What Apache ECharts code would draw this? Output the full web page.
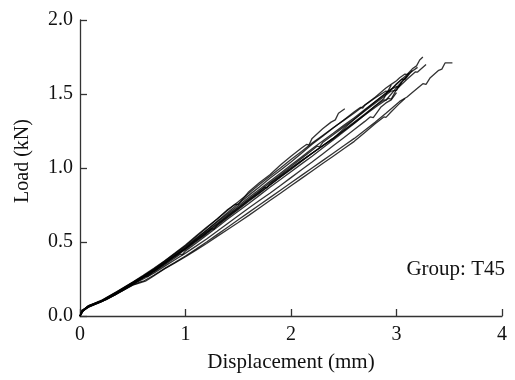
<!DOCTYPE html>
<html>
<head>
<meta charset="utf-8">
<script src="https://cdn.jsdelivr.net/npm/echarts@6/dist/echarts.min.js"></script>
<style>
  html, body { margin: 0; padding: 0; background: #fff; }
  #chart { width: 515px; height: 380px; }
</style>
</head>
<body>
<div id="chart"></div>
<script>
// Load-displacement records of the T45 specimens, [displacement mm, load kN]
const specimen1 = [[0,0],[0.02,0.035],[0.07,0.065],[0.2,0.105],[0.35,0.165],[0.5,0.23],[0.6,0.275],[0.7,0.322],[0.8,0.372],[0.9,0.425],[1.0,0.48],[1.1,0.54],[1.2,0.6],[1.3,0.655],[1.4,0.72],[1.47,0.755],[1.5,0.752],[1.6,0.84],[1.7,0.9],[1.8,0.955],[1.9,1.02],[2.0,1.08],[2.1,1.135],[2.15,1.16],[2.17,1.155],[2.2,1.2],[2.3,1.265],[2.38,1.31],[2.42,1.325],[2.45,1.37],[2.51,1.40]];
const specimen2 = [[0,0],[0.02,0.03],[0.08,0.07],[0.2,0.1],[0.35,0.16],[0.5,0.225],[0.6,0.268],[0.7,0.312],[0.8,0.36],[0.9,0.41],[1.0,0.46],[1.1,0.52],[1.2,0.58],[1.3,0.64],[1.4,0.7],[1.5,0.758],[1.6,0.815],[1.7,0.872],[1.8,0.93],[1.9,0.985],[2.0,1.04],[2.1,1.1],[2.2,1.16],[2.3,1.215],[2.4,1.27],[2.5,1.325],[2.6,1.38],[2.66,1.41],[2.68,1.405],[2.7,1.425],[2.8,1.48],[2.9,1.54],[2.95,1.565],[3.0,1.59],[3.03,1.61],[3.08,1.635],[3.1,1.632],[3.15,1.67],[3.19,1.69],[3.22,1.73],[3.25,1.75]];
const specimen3 = [[0,0],[0.03,0.04],[0.08,0.065],[0.2,0.1],[0.35,0.158],[0.5,0.222],[0.6,0.262],[0.7,0.305],[0.8,0.355],[0.9,0.405],[1.0,0.455],[1.1,0.508],[1.2,0.56],[1.25,0.59],[1.27,0.585],[1.3,0.615],[1.4,0.67],[1.5,0.725],[1.6,0.78],[1.7,0.832],[1.8,0.885],[1.9,0.94],[2.0,0.99],[2.1,1.045],[2.2,1.1],[2.3,1.15],[2.4,1.2],[2.5,1.265],[2.6,1.33],[2.7,1.39],[2.8,1.45],[2.94,1.53],[3.0,1.55],[3.02,1.545],[3.1,1.6],[3.18,1.65],[3.2,1.648],[3.28,1.70]];
const specimen4 = [[0,0],[0.02,0.03],[0.08,0.06],[0.2,0.095],[0.35,0.15],[0.5,0.21],[0.58,0.232],[0.6,0.235],[0.65,0.255],[0.7,0.275],[0.8,0.32],[0.9,0.362],[1.0,0.405],[1.1,0.452],[1.2,0.5],[1.3,0.55],[1.4,0.6],[1.5,0.65],[1.6,0.7],[1.7,0.75],[1.8,0.8],[1.9,0.85],[2.0,0.9],[2.1,0.95],[2.2,1.0],[2.3,1.05],[2.4,1.1],[2.5,1.15],[2.6,1.2],[2.7,1.255],[2.8,1.31],[2.9,1.37],[3.03,1.45],[3.1,1.48],[3.15,1.51],[3.25,1.57],[3.28,1.565],[3.32,1.61],[3.4,1.66],[3.43,1.668],[3.46,1.71],[3.53,1.71]];
const specimen5 = [[0,0],[0.03,0.035],[0.08,0.062],[0.2,0.098],[0.35,0.155],[0.5,0.215],[0.6,0.25],[0.7,0.29],[0.8,0.335],[0.9,0.38],[1.0,0.425],[1.1,0.472],[1.2,0.52],[1.3,0.572],[1.4,0.625],[1.5,0.678],[1.6,0.73],[1.7,0.78],[1.8,0.83],[1.9,0.882],[2.0,0.935],[2.1,0.988],[2.2,1.04],[2.3,1.095],[2.4,1.15],[2.5,1.205],[2.6,1.26],[2.7,1.315],[2.75,1.345],[2.78,1.34],[2.85,1.41],[2.9,1.44],[2.95,1.46],[3.0,1.51]];
const specimen6 = [[0,0],[0.02,0.04],[0.1,0.07],[0.25,0.11],[0.4,0.17],[0.55,0.235],[0.62,0.27],[0.64,0.266],[0.7,0.3],[0.85,0.375],[1.0,0.45],[1.1,0.502],[1.2,0.555],[1.3,0.61],[1.4,0.665],[1.5,0.72],[1.6,0.775],[1.7,0.83],[1.8,0.885],[1.9,0.94],[2.0,0.995],[2.1,1.048],[2.2,1.1],[2.3,1.15],[2.4,1.2],[2.5,1.255],[2.6,1.31],[2.7,1.365],[2.8,1.42],[2.88,1.46],[2.9,1.458],[2.95,1.5],[3.02,1.56],[3.1,1.62]];
const specimen7 = [[0,0],[0.02,0.03],[0.07,0.06],[0.2,0.1],[0.35,0.162],[0.5,0.228],[0.6,0.27],[0.7,0.315],[0.8,0.365],[0.9,0.418],[1.0,0.47],[1.1,0.525],[1.2,0.58],[1.3,0.635],[1.4,0.69],[1.5,0.745],[1.6,0.8],[1.7,0.855],[1.8,0.91],[1.9,0.965],[2.0,1.02],[2.1,1.075],[2.2,1.13],[2.3,1.183],[2.4,1.235],[2.5,1.288],[2.6,1.34],[2.7,1.395],[2.8,1.45],[2.95,1.53],[3.05,1.6],[3.08,1.598],[3.15,1.66]];
const specimen8 = [[0,0],[0.03,0.038],[0.09,0.066],[0.22,0.104],[0.4,0.175],[0.55,0.238],[0.7,0.305],[0.85,0.38],[1.0,0.455],[1.1,0.51],[1.2,0.565],[1.3,0.62],[1.4,0.675],[1.5,0.73],[1.6,0.785],[1.7,0.84],[1.75,0.87],[1.77,0.866],[1.8,0.895],[1.9,0.948],[2.0,1.0],[2.1,1.05],[2.2,1.1],[2.3,1.15],[2.4,1.2],[2.5,1.252],[2.6,1.305],[2.7,1.358],[2.8,1.41],[2.92,1.47],[2.95,1.465],[3.0,1.53],[3.05,1.58]];
const specimen9 = [[0,0],[0.03,0.035],[0.08,0.06],[0.2,0.095],[0.35,0.15],[0.5,0.208],[0.62,0.235],[0.68,0.262],[0.8,0.318],[0.9,0.358],[1.0,0.4],[1.1,0.445],[1.2,0.49],[1.3,0.538],[1.4,0.585],[1.5,0.632],[1.6,0.68],[1.7,0.73],[1.8,0.78],[1.9,0.83],[2.0,0.88],[2.1,0.93],[2.2,0.98],[2.3,1.03],[2.4,1.08],[2.5,1.13],[2.6,1.18],[2.7,1.24],[2.8,1.3],[2.88,1.345],[2.9,1.342],[2.95,1.38],[3.02,1.43],[3.08,1.47]];
const specimen10 = [[0,0],[0.02,0.036],[0.08,0.068],[0.2,0.102],[0.35,0.163],[0.5,0.226],[0.6,0.27],[0.7,0.318],[0.8,0.37],[0.9,0.422],[1.0,0.475],[1.1,0.535],[1.2,0.595],[1.3,0.655],[1.4,0.715],[1.5,0.772],[1.6,0.83],[1.7,0.888],[1.8,0.945],[1.9,1.0],[2.0,1.058],[2.1,1.112],[2.2,1.168],[2.3,1.22],[2.4,1.272],[2.5,1.322],[2.6,1.372],[2.7,1.425],[2.8,1.475],[2.9,1.52],[2.93,1.515],[3.0,1.57],[3.1,1.63],[3.2,1.68]];
const specimen11 = [[0,0],[0.03,0.037],[0.08,0.064],[0.2,0.1],[0.35,0.16],[0.5,0.22],[0.6,0.258],[0.7,0.3],[0.8,0.345],[0.9,0.392],[0.95,0.418],[0.97,0.414],[1.0,0.44],[1.1,0.492],[1.2,0.545],[1.3,0.6],[1.4,0.655],[1.5,0.708],[1.6,0.76],[1.7,0.815],[1.8,0.87],[1.9,0.922],[2.0,0.975],[2.1,1.028],[2.2,1.08],[2.3,1.135],[2.4,1.19],[2.5,1.245],[2.6,1.3],[2.7,1.36],[2.8,1.42],[2.88,1.47],[2.95,1.56]];
const specimen12 = [[0,0],[0.02,0.034],[0.07,0.063],[0.2,0.1],[0.35,0.159],[0.5,0.224],[0.6,0.265],[0.7,0.31],[0.8,0.358],[0.9,0.41],[1.0,0.462],[1.1,0.516],[1.2,0.57],[1.3,0.625],[1.4,0.68],[1.5,0.735],[1.6,0.79],[1.7,0.845],[1.8,0.9],[1.9,0.955],[2.0,1.01],[2.1,1.065],[2.2,1.12],[2.25,1.148],[2.27,1.143],[2.3,1.172],[2.4,1.225],[2.5,1.278],[2.6,1.33],[2.7,1.385],[2.8,1.44],[2.95,1.52],[3.0,1.525],[3.05,1.58],[3.12,1.64]];

const specimens = [specimen1, specimen2, specimen3, specimen4, specimen5, specimen6,
                   specimen7, specimen8, specimen9, specimen10, specimen11, specimen12];

const xTicks = [0, 1, 2, 3, 4];
const yTicks = [0, 0.5, 1.0, 1.5, 2.0];
const groupLabel = 'Group: T45';

const serif = '"Liberation Serif", "Times New Roman", serif';
const ink = '#111';
const axisColor = '#333';

const chart = echarts.init(document.getElementById('chart'), null, { renderer: 'canvas' });

chart.setOption({
  animation: false,
  backgroundColor: '#ffffff',
  grid: { left: 80, right: 13, top: 20, bottom: 64 },
  xAxis: {
    type: 'value',
    min: xTicks[0],
    max: xTicks[xTicks.length - 1],
    interval: 1,
    name: 'Displacement (mm)',
    nameLocation: 'middle',
    nameGap: 36,
    nameTextStyle: { fontFamily: serif, fontSize: 21, color: ink },
    axisLine: { show: true, lineStyle: { color: axisColor, width: 1.3 } },
    axisTick: { show: true, inside: true, length: 7, lineStyle: { color: axisColor, width: 1.3 } },
    axisLabel: { fontFamily: serif, fontSize: 20, color: ink, margin: 9 },
    splitLine: { show: false }
  },
  yAxis: {
    type: 'value',
    min: yTicks[0],
    max: yTicks[yTicks.length - 1],
    interval: 0.5,
    name: 'Load (kN)',
    nameLocation: 'middle',
    nameGap: 47,
    nameTextStyle: { fontFamily: serif, fontSize: 20, color: ink, padding: [0, 0, 0, 14] },
    axisLine: { show: true, lineStyle: { color: axisColor, width: 1.3 } },
    axisTick: { show: true, inside: true, length: 7, lineStyle: { color: axisColor, width: 1.3 } },
    axisLabel: { fontFamily: serif, fontSize: 20, color: ink, margin: 7,
                 formatter: v => v.toFixed(1) },
    splitLine: { show: false }
  },
  graphic: [{
    type: 'text',
    right: 10,
    top: 259,
    style: { text: groupLabel, font: '21px ' + serif, fill: ink }
  }],
  series: specimens.map((d, i) => ({
    name: 'S' + (i + 1),
    type: 'line',
    data: d,
    showSymbol: false,
    symbol: 'none',
    lineStyle: { color: '#000', width: 1.3, opacity: 0.8 },
    z: 2
  }))
});
</script>
</body>
</html>
